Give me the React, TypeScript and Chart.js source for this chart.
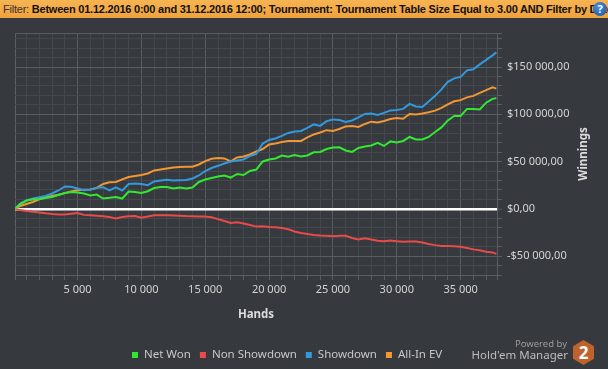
import React, { useEffect, useRef } from "react";
import { Chart, registerables } from "chart.js";

Chart.register(...registerables);

// ---- data (values in thousands of $) ----
const HANDS = [
  100, 500, 1000, 1500, 2000, 2500, 3000, 3500, 4000, 4500,
  5000, 5500, 6000, 6500, 7000, 7500, 8000, 8500, 9000, 9500,
  10000, 10500, 11000, 11500, 12000, 12500, 13000, 13500, 14000, 14500,
  15000, 15500, 16000, 16500, 17000, 17500, 18000, 18500, 19000, 19500,
  20000, 20500, 21000, 21500, 22000, 22500, 23000, 23500, 24000, 24500,
  25000, 25500, 26000, 26500, 27000, 27500, 28000, 28500, 29000, 29500,
  30000, 30500, 31000, 31500, 32000, 32500, 33000, 33500, 34000, 34500,
  35000, 35500, 36000, 36500, 37000, 37500, 37800,
];

const NET_WON = [
  0, 5.1, 8.8, 9.8, 10.4, 11.4, 12.5, 14.6, 16.7, 17.8,
  17.3, 16.2, 14.1, 15.1, 10.9, 11.6, 12.5, 10.9, 18.3, 17.8,
  16.7, 18.6, 22.0, 23.1, 23.1, 21.5, 22.6, 21.5, 22.6, 28.4,
  31.0, 32.6, 34.2, 35.3, 33.1, 36.9, 35.8, 40.0, 41.6, 50.1,
  52.2, 53.3, 56.4, 55.1, 57.0, 55.4, 56.4, 59.8, 60.2, 63.3,
  64.9, 65.1, 61.7, 60.2, 64.4, 66.0, 67.0, 69.7, 66.5, 71.3,
  70.2, 71.8, 76.0, 73.4, 73.4, 76.0, 81.3, 86.1, 93.5, 98.3,
  98.3, 105.7, 105.7, 105.2, 112.3, 116.3, 117.1,
];

const NON_SHOWDOWN = [
  -0.2, -1.3, -2.3, -3.1, -3.9, -4.8, -5.5, -6.0, -6.0, -5.2,
  -4.4, -6.4, -6.9, -7.3, -7.9, -8.7, -10.1, -8.7, -7.9, -7.6,
  -9.5, -8.2, -6.9, -6.9, -6.9, -7.1, -7.3, -7.7, -7.9, -8.2,
  -8.2, -9.0, -10.9, -12.9, -15.0, -14.3, -15.6, -17.2, -18.8, -18.5,
  -19.1, -19.5, -20.3, -21.7, -24.0, -25.6, -26.7, -27.7, -28.3, -28.6,
  -29.1, -28.5, -28.6, -30.9, -32.5, -31.2, -32.5, -33.8, -34.3, -33.6,
  -34.3, -34.8, -34.6, -34.6, -35.7, -37.3, -38.4, -39.2, -39.4, -39.6,
  -40.2, -41.5, -42.9, -43.8, -45.4, -46.1, -47.7,
];

const SHOWDOWN = [
  0, 5.6, 8.8, 10.9, 12.3, 13.6, 16.2, 19.4, 23.6, 23.3,
  21.5, 19.6, 20.2, 22.2, 22.9, 19.4, 22.6, 19.4, 26.3, 26.8,
  26.3, 25.0, 28.9, 30.0, 30.8, 30.0, 30.2, 30.5, 32.1, 35.3,
  40.0, 43.2, 45.5, 48.0, 50.1, 51.2, 52.2, 55.9, 58.0, 69.0,
  72.9, 74.4, 77.1, 80.3, 81.9, 82.4, 85.6, 89.3, 87.7, 92.7,
  94.6, 94.0, 91.9, 93.5, 96.7, 100.4, 100.9, 99.3, 101.5, 104.1,
  104.6, 105.7, 111.0, 108.3, 107.8, 113.6, 119.5, 126.3, 134.3, 138.0,
  139.6, 146.5, 147.7, 152.8, 157.6, 162.3, 165.5,
];

const ALL_IN_EV = [
  0, 3.0, 5.1, 7.2, 10.1, 12.0, 13.6, 14.8, 16.6, 18.3,
  19.6, 20.3, 20.4, 22.2, 26.3, 28.1, 28.4, 31.2, 33.7, 34.7,
  35.8, 37.4, 40.6, 41.6, 42.7, 43.7, 44.3, 44.5, 44.5, 46.9,
  50.4, 52.9, 53.8, 53.3, 50.1, 54.3, 55.4, 57.5, 60.7, 63.3,
  68.1, 69.2, 70.7, 71.8, 71.8, 71.8, 75.5, 78.7, 80.8, 83.2,
  82.4, 84.5, 87.2, 87.7, 86.6, 89.8, 92.2, 91.4, 93.0, 95.1,
  96.2, 95.3, 100.4, 99.9, 100.9, 102.2, 103.9, 106.7, 110.5, 113.8,
  115.0, 117.9, 119.5, 122.6, 125.5, 128.5, 127.1,
];

const SERIES_LABELS = ["Net Won", "Non Showdown", "Showdown", "All-In EV"];
const SERIES_VALUES = [NET_WON, NON_SHOWDOWN, SHOWDOWN, ALL_IN_EV];
const SERIES_COLORS = ["#33e833", "#e94a4a", "#3399dd", "#f39634"];

const X_MIN = 100;
const X_MAX = 37850;
const X_MINOR = 1000;
const X_MAJOR = 5000;
const Y_MIN = -70000;
const Y_MAX = 186000;
const Y_MINOR = 10000;
const Y_MAJOR = 50000;

const FILTER_TEXT =
  "Between 01.12.2016 0:00 and 31.12.2016 12:00; Tournament: Tournament Table Size Equal to 3.00 AND Filter by Date";

const BG = "#36393d";
const MINOR = "#44474b";
const MAJOR = "#5a5d61";
const FONT = '"Noto Sans", "Open Sans", sans-serif';

function groupThousands(n: number): string {
  const s = Math.round(Math.abs(n)).toString();
  return s.replace(/\B(?=(\d{3})+(?!\d))/g, " ");
}
function money(v: number): string {
  return (v < 0 ? "-" : "") + "$" + groupThousands(v) + ",00";
}

export default function App() {
  const ref = useRef<HTMLCanvasElement | null>(null);

  useEffect(() => {
    const canvas = ref.current;
    if (!canvas) return;

    const extras = {
      id: "extras",
      afterDraw(chart: any) {
        const ctx = chart.ctx;
        ctx.save();
        // y-axis title (reads bottom to top)
        const ca = chart.chartArea;
        ctx.fillStyle = "#dcdcdc";
        ctx.font = `bold 11.5px ${FONT}`;
        ctx.textAlign = "center";
        ctx.textBaseline = "middle";
        ctx.translate(583.5, (ca.top + ca.bottom) / 2);
        ctx.rotate(-Math.PI / 2);
        ctx.fillText("Winnings", 0, 0);
        ctx.restore();

        // legend
        ctx.save();
        ctx.font = `11.5px ${FONT}`;
        ctx.textBaseline = "middle";
        ctx.textAlign = "left";
        let x = 132;
        const y = 355;
        chart.data.datasets.forEach((ds: any) => {
          ctx.fillStyle = ds.borderColor;
          ctx.fillRect(x, y - 3, 6, 6);
          x += 12;
          ctx.fillStyle = "#c8c8c8";
          ctx.fillText(ds.label, x, y);
          x += ctx.measureText(ds.label).width + 9;
        });
        ctx.restore();
      },
    };

    const xTicks: number[] = [X_MIN];
    for (let v = X_MINOR; v < X_MAX; v += X_MINOR) xTicks.push(v);
    xTicks.push(X_MAX);
    const yTicks: number[] = [Y_MIN];
    for (let v = Y_MIN + Y_MINOR; v < Y_MAX; v += Y_MINOR) yTicks.push(v);
    yTicks.push(Y_MAX);

    const chart = new Chart(canvas, {
      type: "line",
      data: {
        datasets: SERIES_LABELS.map((label, i) => ({
          label,
          data: HANDS.map((h, j) => ({ x: h, y: SERIES_VALUES[i][j] * 1000 })),
          borderColor: SERIES_COLORS[i],
          backgroundColor: SERIES_COLORS[i],
          borderWidth: 2,
          pointRadius: 0,
          tension: 0,
          fill: false,
        })),
      },
      options: {
        animation: false,
        responsive: false,
        devicePixelRatio: 1,
        layout: { padding: { left: 15, top: 33, right: 0, bottom: 0 } },
        plugins: {
          legend: { display: false },
          tooltip: { enabled: false },
        },
        scales: {
          x: {
            type: "linear",
            min: X_MIN,
            max: X_MAX,
            afterFit: (s: any) => {
              s.height = 94;
            },
            afterBuildTicks: (s: any) => {
              s.ticks = xTicks.map((v) => ({ value: v }));
            },
            grid: {
              color: (c: any) => {
                const v = c.tick ? c.tick.value : 0;
                if (v === X_MIN || v === X_MAX) return MAJOR;
                return v % X_MAJOR === 0 ? MAJOR : MINOR;
              },
              tickColor: MAJOR,
              tickLength: 5,
              drawTicks: true,
            },
            border: { display: true, color: MAJOR },
            ticks: {
              autoSkip: false,
              maxRotation: 0,
              padding: 3,
              color: "#d4d4d4",
              font: { family: FONT, size: 11 },
              callback: (v: any) => {
                const n = Number(v);
                return n % X_MAJOR === 0 && n !== 0 ? groupThousands(n) : "";
              },
            },
            title: {
              display: true,
              text: "Hands",
              color: "#dcdcdc",
              font: { family: FONT, size: 11.5, weight: "bold" },
              padding: { top: 0, bottom: 47 },
            },
          },
          y: {
            type: "linear",
            position: "right",
            min: Y_MIN,
            max: Y_MAX,
            afterFit: (s: any) => {
              s.width = 111;
            },
            afterBuildTicks: (s: any) => {
              s.ticks = yTicks.map((v) => ({ value: v }));
            },
            grid: {
              color: (c: any) => {
                const v = c.tick ? c.tick.value : 1;
                if (v === 0) return "#ffffff";
                if (v === Y_MIN || v === Y_MAX) return MAJOR;
                return v % Y_MAJOR === 0 ? MAJOR : MINOR;
              },
              lineWidth: (c: any) => (c.tick && c.tick.value === 0 ? 2.5 : 1),
              tickColor: MAJOR,
              tickLength: 5,
              tickWidth: 1,
              drawTicks: true,
            },
            border: { display: true, color: MAJOR },
            ticks: {
              autoSkip: false,
              padding: 5,
              color: "#d4d4d4",
              font: { family: FONT, size: 11 },
              callback: (v: any) => {
                const n = Number(v);
                return n % Y_MAJOR === 0 ? money(n) : "";
              },
            },
          },
        },
      },
      plugins: [extras],
    } as any);

    return () => chart.destroy();
  }, []);

  return (
    <div
      style={{
        position: "fixed",
        left: 0,
        top: 0,
        width: 608,
        height: 369,
        background: BG,
        overflow: "hidden",
      }}
    >
      <canvas
        ref={ref}
        width={608}
        height={369}
        style={{ position: "absolute", left: 0, top: 0, width: 608, height: 369 }}
      />
      <div
        style={{
          position: "absolute",
          left: 0,
          top: 0,
          width: 608,
          height: 18,
          background: "linear-gradient(#f7b452, #f0a23c)",
          whiteSpace: "nowrap",
          overflow: "hidden",
          fontFamily: '"Liberation Sans", Arial, sans-serif',
          fontSize: 11,
          letterSpacing: "-0.22px",
          lineHeight: "18px",
          color: "#111",
        }}
      >
        <span style={{ marginLeft: 3, color: "#333" }}>Filter: </span>
        <b>{FILTER_TEXT}</b>
      </div>
      <div
        style={{
          position: "absolute",
          left: 593,
          top: 2,
          width: 14,
          height: 14,
          borderRadius: "50%",
          background: "radial-gradient(circle at 40% 35%, #4a8fe0, #1b4f9c)",
          color: "#fff",
          fontFamily: FONT,
          fontWeight: "bold",
          fontSize: 11,
          lineHeight: "14px",
          textAlign: "center",
        }}
      >
        ?
      </div>
      {/* logo */}
      <div
        style={{
          position: "absolute",
          right: 608 - 567,
          top: 337,
          fontFamily: FONT,
          fontSize: 9.5,
          color: "#9a9a9a",
          whiteSpace: "nowrap",
        }}
      >
        Powered by
      </div>
      <div
        style={{
          position: "absolute",
          right: 608 - 568,
          top: 347,
          fontFamily: FONT,
          fontSize: 11.5,
          color: "#bdbdbd",
          whiteSpace: "nowrap",
        }}
      >
        Hold'em Manager
      </div>
      <div
        style={{
          position: "absolute",
          left: 573,
          top: 340,
          width: 21,
          height: 25,
          background: "#c0622b",
          clipPath: "polygon(50% 0, 100% 25%, 100% 75%, 50% 100%, 0 75%, 0 25%)",
          color: "#fff",
          fontFamily: FONT,
          fontWeight: "bold",
          fontSize: 17,
          lineHeight: "25px",
          textAlign: "center",
        }}
      >
        2
      </div>
    </div>
  );
}
